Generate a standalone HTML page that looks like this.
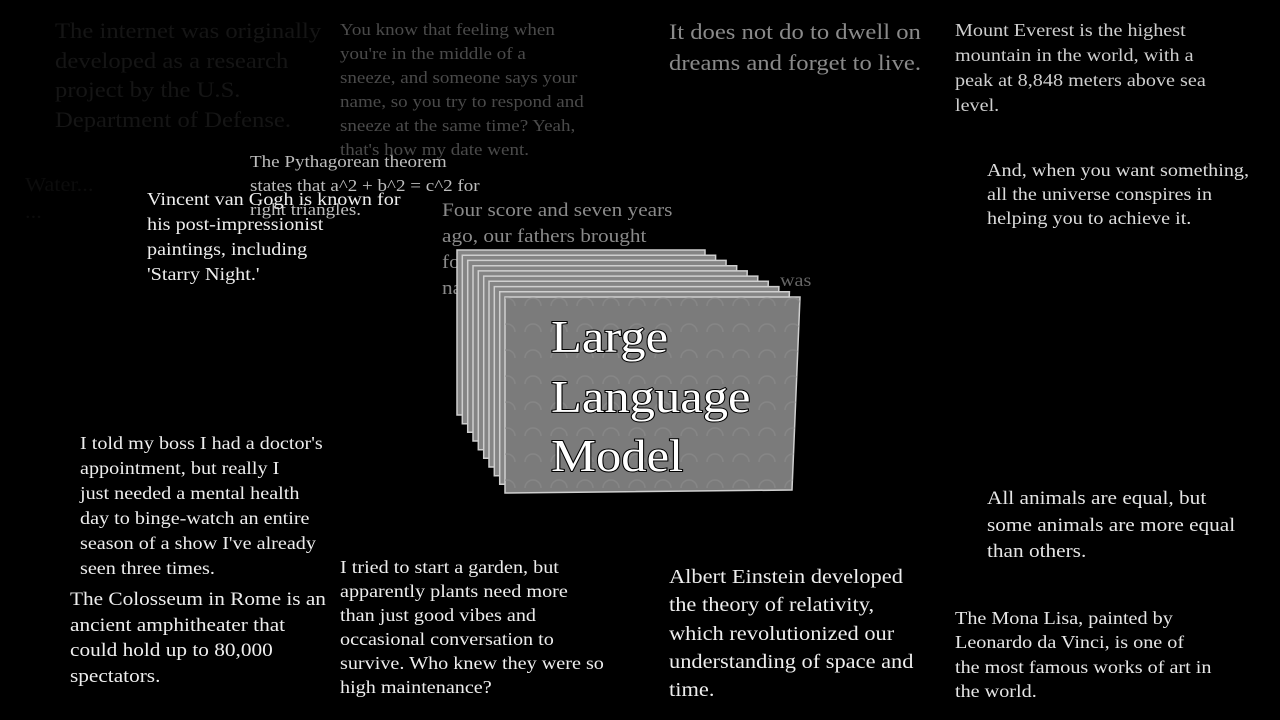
<!DOCTYPE html>
<html><head><meta charset="utf-8"><style>
body{margin:0;width:1280px;height:720px;background:#000;overflow:hidden;position:relative;font-family:"Liberation Serif",serif}
.t{position:absolute;white-space:nowrap;transform:scaleX(1.12);transform-origin:0 0}
</style></head><body>
<div class="t" style="left:55px;top:16px;font-size:22px;line-height:29.5px;color:#151515">The internet was originally<br>developed as a research<br>project by the U.S.<br>Department of Defense.</div>
<div class="t" style="left:25px;top:172px;font-size:20px;line-height:27px;color:#0c0c0c">Water...<br>...</div>
<div class="t" style="left:340px;top:18px;font-size:17px;line-height:24px;color:#4a4a4a">You know that feeling when<br>you're in the middle of a<br>sneeze, and someone says your<br>name, so you try to respond and<br>sneeze at the same time? Yeah,<br>that's how my date went.</div>
<div class="t" style="left:669px;top:16px;font-size:22px;line-height:31px;color:#8a8a8a">It does not do to dwell on<br>dreams and forget to live.</div>
<div class="t" style="left:955px;top:18px;font-size:18px;line-height:25px;color:#cfcfcf">Mount Everest is the highest<br>mountain in the world, with a<br>peak at 8,848 meters above sea<br>level.</div>
<div class="t" style="left:987px;top:158px;font-size:18px;line-height:24px;color:#dcdcdc">And, when you want something,<br>all the universe conspires in<br>helping you to achieve it.</div>
<div class="t" style="left:442px;top:198px;font-size:19px;line-height:26px;color:#8a8a8a">Four score and seven years<br>ago, our fathers brought<br>forth on this continent a new<br>nation, conceived in liberty...</div>
<div class="t" style="left:780px;top:270px;font-size:18px;color:#666">was</div>
<div class="t" style="left:250px;top:150px;font-size:17px;line-height:24px;color:#bdbdbd">The Pythagorean theorem<br>states that a^2 + b^2 = c^2 for<br>right triangles.</div>
<div class="t" style="left:147px;top:187px;font-size:18px;line-height:25px;color:#eee">Vincent van Gogh is known for<br>his post-impressionist<br>paintings, including<br>'Starry Night.'</div>
<svg style="position:absolute;left:0;top:0" width="1280" height="720">
<defs><pattern id="p" width="26" height="26" patternUnits="userSpaceOnUse"><path d="M5 20 A8 8 0 0 1 21 20" fill="none" stroke="#8e8e8e" stroke-width="1.5"/></pattern></defs>
<g fill="#858585" stroke="#cfcfcf" stroke-width="1.5">
<polygon points="457,250 705,250 705,415 457,415"/>
<polygon points="462.3,255.2 715.6,255.2 714.7,423.3 462.3,423.7"/>
<polygon points="467.7,260.4 726.1,260.4 724.3,432 467.7,432.3"/>
<polygon points="473,265.7 736.7,265.7 734,440.7 473,441"/>
<polygon points="478.3,270.9 747.2,270.9 743.7,449.3 478.3,449.7"/>
<polygon points="483.7,276.1 757.8,276.1 753.4,458 483.7,458.3"/>
<polygon points="489,281.3 768.3,281.3 763,466.7 489,467"/>
<polygon points="494.3,286.6 778.9,286.6 772.7,475.3 494.3,475.7"/>
<polygon points="499.7,291.8 789.4,291.8 782.4,484 499.7,484.3"/>
<polygon points="505,297 800,297 792,490 505,493" fill="#7b7b7b"/>
</g>
<polygon points="505,297 800,297 792,490 505,493" fill="url(#p)" opacity="0.6"/>
<g font-family="Liberation Serif, serif" font-size="46" fill="#fff" stroke="#000" stroke-width="2" paint-order="stroke" transform="translate(551 0) scale(1.1 1) translate(-551 0)">
<text x="551" y="352">Large</text><text x="551" y="412">Language</text><text x="551" y="471">Model</text></g>
</svg>
<div class="t" style="left:80px;top:431px;font-size:18px;line-height:25px;color:#eee">I told my boss I had a doctor's<br>appointment, but really I<br>just needed a mental health<br>day to binge-watch an entire<br>season of a show I've already<br>seen three times.</div>
<div class="t" style="left:70px;top:587px;font-size:19px;line-height:25.7px;color:#eee">The Colosseum in Rome is an<br>ancient amphitheater that<br>could hold up to 80,000<br>spectators.</div>
<div class="t" style="left:340px;top:555px;font-size:18px;line-height:24px;color:#eee">I tried to start a garden, but<br>apparently plants need more<br>than just good vibes and<br>occasional conversation to<br>survive. Who knew they were so<br>high maintenance?</div>
<div class="t" style="left:669px;top:563px;font-size:20px;line-height:28.3px;color:#eee">Albert Einstein developed<br>the theory of relativity,<br>which revolutionized our<br>understanding of space and<br>time.</div>
<div class="t" style="left:987px;top:486px;font-size:19px;line-height:26.5px;color:#e6e6e6">All animals are equal, but<br>some animals are more equal<br>than others.</div>
<div class="t" style="left:955px;top:606px;font-size:18px;line-height:24.3px;color:#e6e6e6">The Mona Lisa, painted by<br>Leonardo da Vinci, is one of<br>the most famous works of art in<br>the world.</div>
</body></html>
